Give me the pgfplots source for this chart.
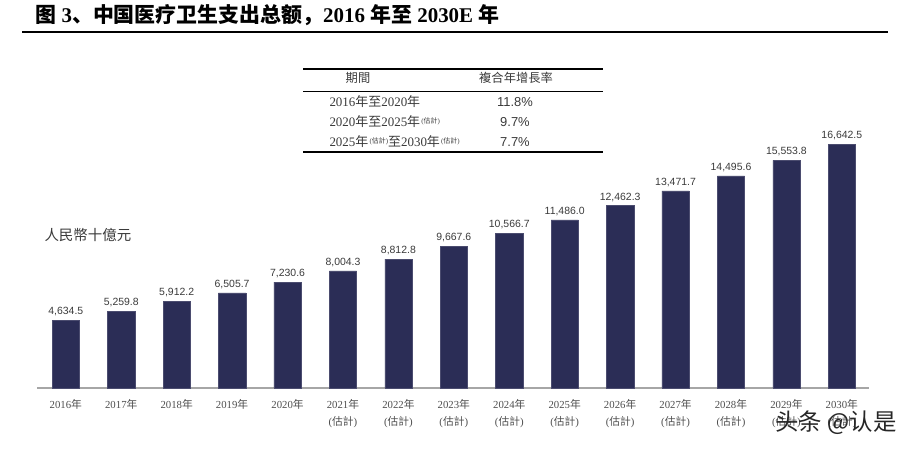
\documentclass[border=0pt]{standalone}
\usepackage{fontspec}
\usepackage{pgfplots}
\pgfplotsset{compat=1.18}
\setmainfont{Liberation Serif}
\newfontfamily\cjk{Noto Sans CJK TC}
\newfontfamily\cjksc{Noto Sans CJK SC}
\newfontfamily\sans{Liberation Sans}

\definecolor{barnavy}{HTML}{2B2D56}
\definecolor{txtgray}{HTML}{3A3A3A}
\definecolor{axgray}{HTML}{A6A6A6}

% year labels on the x axis
\newcommand{\yr}[1]{#1{\cjk 年}}
\newcommand{\yre}[1]{#1{\cjk 年}\\({\cjk 估計})}
% small raised "(estimate)" in the table
\newcommand{\est}{\raisebox{0.6ex}{\fontsize{7}{8}\selectfont\,({\cjk 估計})}}

\begin{document}
\begin{tikzpicture}[x=1bp,y=1bp]
\path[use as bounding box] (0,0) rectangle (911,452);

% title
\node[anchor=west, font=\fontsize{21}{22}\selectfont\bfseries] at (32,437)
  {{\cjksc\bfseries 图} 3{\cjksc\bfseries 、中国医疗卫生支出总额，}2016 {\cjksc\bfseries 年至} 2030E {\cjksc\bfseries 年}};
\draw[line width=1.1bp] (22,420) -- (888,420);

% CAGR table
\draw[line width=1.4bp] (303,383) -- (603,383);
\draw[line width=0.6bp] (303,361) -- (603,361);
\draw[line width=1.4bp] (303,300) -- (603,300);
\begin{scope}[font=\fontsize{13}{14}\selectfont, text=txtgray]
\node[font=\cjk\fontsize{12.3}{13}\selectfont] at (358,374) {期間};
\node[font=\cjk\fontsize{12.3}{13}\selectfont] at (516,374) {複合年增長率};
\node[anchor=west] at (326,350) {2016{\cjk 年至}2020{\cjk 年}};
\node[anchor=west] at (326,330) {2020{\cjk 年至}2025{\cjk 年}\est};
\node[anchor=west] at (326,310) {2025{\cjk 年}\est{\cjk 至}2030{\cjk 年}\est};
\node[font=\sans\fontsize{13}{14}\selectfont] at (515,350) {11.8\%};
\node[font=\sans\fontsize{13}{14}\selectfont] at (515,330) {9.7\%};
\node[font=\sans\fontsize{13}{14}\selectfont] at (515,310) {7.7\%};
\end{scope}

% unit label
\node[anchor=west, font=\cjk\fontsize{14.5}{16}\selectfont, text=txtgray] at (41,217) {人民幣十億元};

\begin{axis}[
    at={(37bp,64bp)}, anchor=south west,
    scale only axis,
    width=832bp, height=263.4bp,
    xmin=-0.52, xmax=14.49,
    ymin=0, ymax=18000,
    axis y line=none,
    axis x line*=bottom,
    x axis line style={axgray, line width=1.5bp, -},
    xtick={0,...,14},
    major tick length=0pt,
    xticklabels={\yr{2016},\yr{2017},\yr{2018},\yr{2019},\yr{2020},
        \yre{2021},\yre{2022},\yre{2023},\yre{2024},\yre{2025},
        \yre{2026},\yre{2027},\yre{2028},\yre{2029},\yre{2030}},
    xticklabel style={font=\fontsize{10.8}{16.5}\selectfont, text=txtgray!90,
        align=center, anchor=north, yshift=-8bp},
    ybar,
    bar width=27.3bp,
    nodes near coords={\pgfmathprintnumber[fixed,zerofill,precision=1,1000 sep={,},assume math mode=true]{\pgfplotspointmeta}},
    every node near coord/.append style={font=\sans\fontsize{10.5}{12}\selectfont,
        text=txtgray, inner sep=4bp},
    clip=false,
]
\addplot[fill=barnavy, draw=barnavy!85!white] coordinates {
    (0,4634.5) (1,5259.8) (2,5912.2) (3,6505.7) (4,7230.6)
    (5,8004.3) (6,8812.8) (7,9667.6) (8,10566.7) (9,11486.0)
    (10,12462.3) (11,13471.7) (12,14495.6) (13,15553.8) (14,16642.5)};
\end{axis}

% watermark
\node[anchor=west, font=\cjksc\fontsize{23.5}{25}\selectfont, text=black!85] at (772,29) {头条 @认是};
\end{tikzpicture}
\end{document}
